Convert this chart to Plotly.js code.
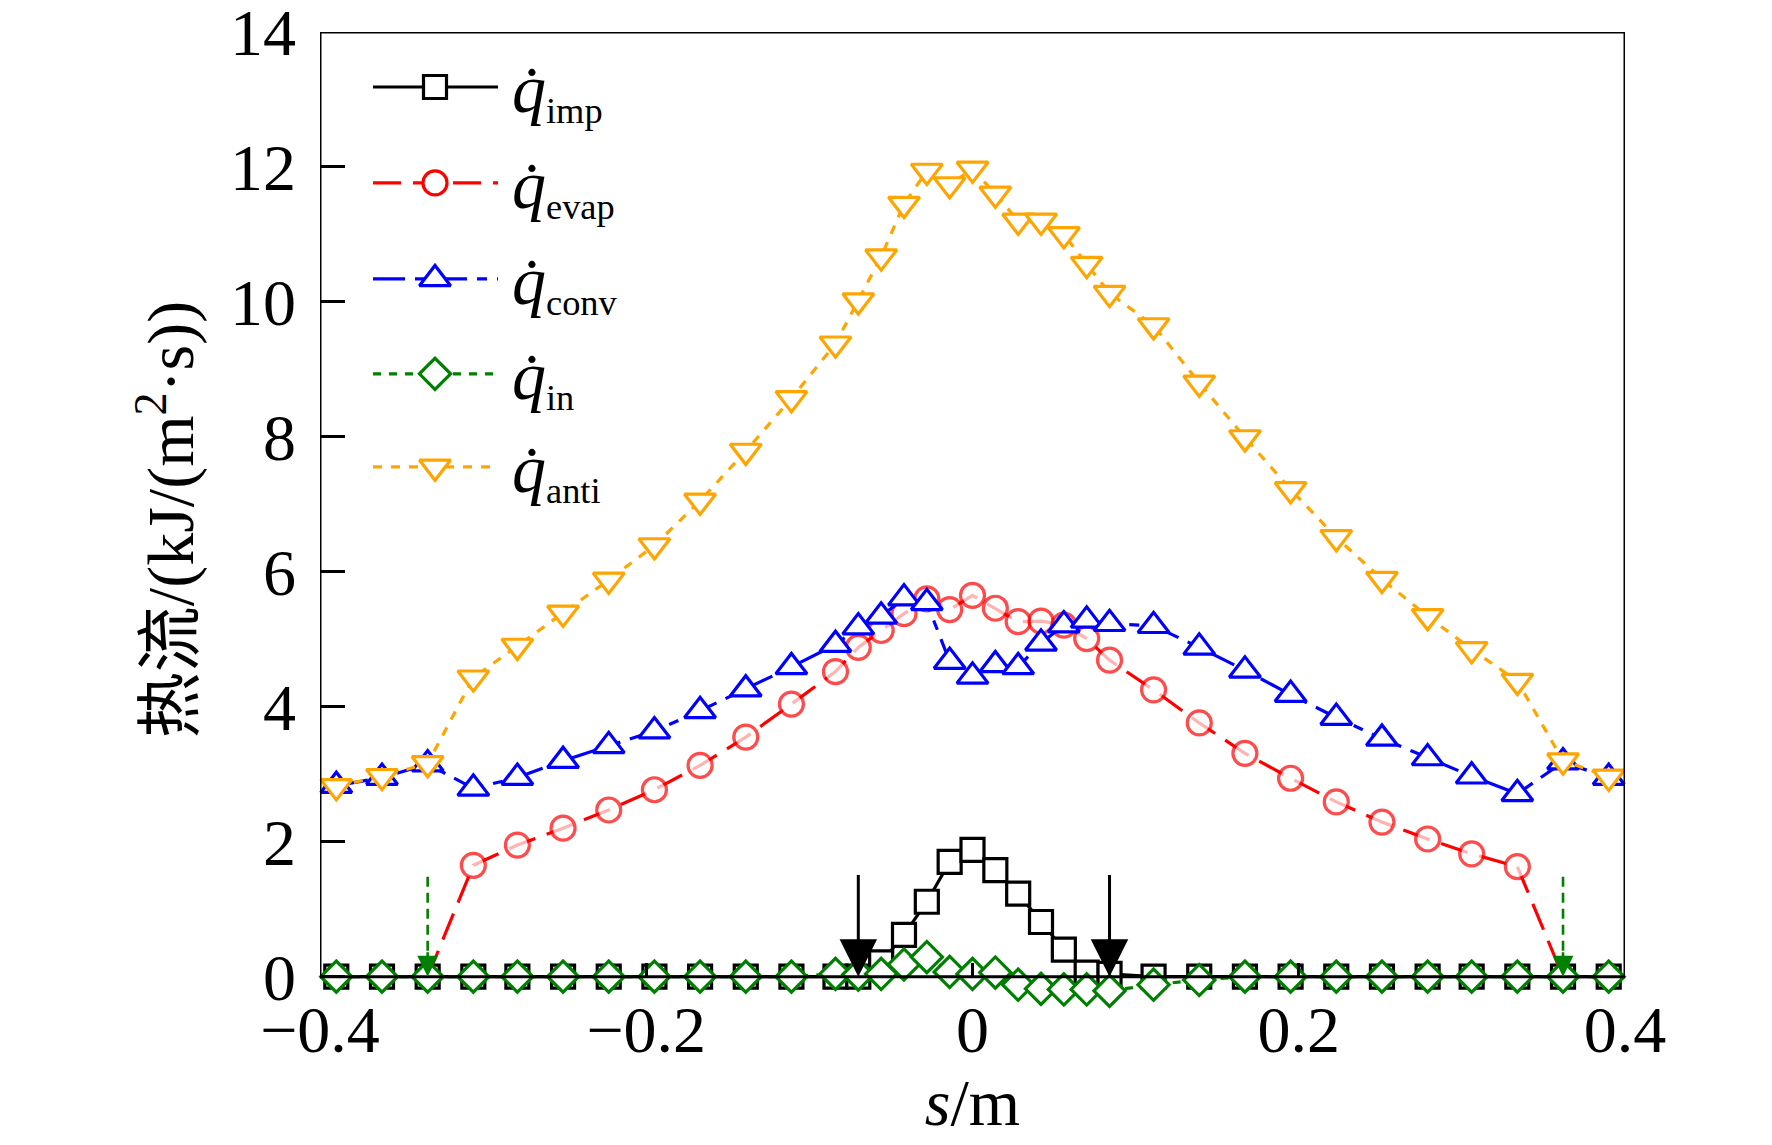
<!DOCTYPE html>
<html>
<head>
<meta charset="utf-8">
<script src="https://cdn.plot.ly/plotly-3.0.1.min.js"></script>
<style>html,body{margin:0;padding:0;background:#fff;}#chart{width:1772px;height:1145px;}</style>
</head>
<body>
<div id="chart"></div>
<script>
// ---- data ----
const s = [-0.390, -0.362, -0.334, -0.306, -0.279, -0.251, -0.223, -0.195, -0.167, -0.139, -0.111, -0.084,
  -0.070, -0.056, -0.042, -0.028, -0.014, 0, 0.014, 0.028, 0.042, 0.056, 0.070, 0.084,
  0.111, 0.139, 0.167, 0.195, 0.223, 0.251, 0.279, 0.306, 0.334, 0.362, 0.390];

const qImp = [0, 0, 0, 0, 0, 0, 0, 0, 0, 0, 0, 0,
  0, 0.21, 0.62, 1.11, 1.70, 1.88, 1.58, 1.23, 0.81, 0.40, 0.06, 0.04,
  0, 0, 0, 0, 0, 0, 0, 0, 0, 0, 0];

const sEvap = [-0.334, -0.306, -0.279, -0.251, -0.223, -0.195, -0.167, -0.139, -0.111, -0.084,
  -0.070, -0.056, -0.042, -0.028, -0.014, 0, 0.014, 0.028, 0.042, 0.056, 0.070, 0.084,
  0.111, 0.139, 0.167, 0.195, 0.223, 0.251, 0.279, 0.306, 0.334, 0.362];
const qEvap = [0, 1.65, 1.95, 2.20, 2.47, 2.77, 3.13, 3.55, 4.04, 4.52,
  4.88, 5.13, 5.38, 5.60, 5.44, 5.65, 5.46, 5.26, 5.27, 5.21, 5.01, 4.69,
  4.25, 3.76, 3.31, 2.94, 2.59, 2.29, 2.04, 1.82, 1.63, 0];

const qConv = [2.83, 2.95, 3.15, 2.79, 2.95, 3.20, 3.42, 3.64, 3.94, 4.26, 4.59, 4.92,
  5.18, 5.34, 5.61, 5.54, 4.67, 4.45, 4.62, 4.59, 4.94, 5.21, 5.28, 5.23,
  5.20, 4.88, 4.54, 4.18, 3.84, 3.53, 3.24, 2.97, 2.71, 3.18, 2.95];

const qIn = [0, 0, 0, 0, 0, 0, 0, 0, 0, 0, 0, 0.04,
  0.03, 0.04, 0.18, 0.29, 0.07, 0.04, 0.06, -0.12, -0.18, -0.19, -0.19, -0.21,
  -0.12, -0.05, 0, 0, 0, 0, 0, 0, 0, 0, 0];

const qAnti = [2.82, 2.97, 3.16, 4.43, 4.90, 5.39, 5.88, 6.39, 7.05, 7.79, 8.57, 9.38,
  10.02, 10.67, 11.45, 11.94, 11.74, 11.97, 11.60, 11.20, 11.20, 11.00, 10.56, 10.13,
  9.65, 8.80, 7.99, 7.22, 6.51, 5.89, 5.34, 4.85, 4.38, 3.20, 2.96];

const seriesNames = ['imp', 'evap', 'conv', 'in', 'anti'];
const xTicks = [-0.4, -0.2, 0, 0.2, 0.4];
const xTickText = ['\u22120.4', '\u22120.2', '0', '0.2', '0.4'];
const yTicks = [0, 2, 4, 6, 8, 10, 12, 14];
const xRange = [-0.4, 0.4];
const yFrame = [0, 14];

// arrows: impingement limits (black) and water-film limits (green)
const arrowImpX = [-0.070, 0.084];
const arrowImpTop = 1.53;
const arrowInX = [-0.334, 0.362];
const arrowInTop = 1.48;

// ---- styles ----
const FONT = "'Liberation Serif', 'Times New Roman', 'Noto Sans CJK SC', serif";
const styles = [
  {color: '#000000', dash: 'solid', symbol: 'square', size: 23},
  {color: '#ff0000', dash: '28px,12px', symbol: 'circle', size: 24},
  {color: '#0000ff', dash: '32px,10px,10px,10px', symbol: 'triangle-up', size: 27},
  {color: '#008000', dash: '8px,8px', symbol: 'diamond', size: 24},
  {color: '#ffa500', dash: '9px,9px', symbol: 'triangle-down', size: 27}
];
const LW = 3.2;

// plot geometry: extra room below y=0 so negative q_in markers stay visible
const yBelow = 0.45;
const PLOT_T = 32, PLOT_H0 = 945;            // height of the 0..14 frame in px
const pxPerUnit = PLOT_H0 / (yFrame[1] - yFrame[0]);
const PLOT_H = PLOT_H0 + yBelow * pxPerUnit;
const MARGIN_B = 1145 - PLOT_T - PLOT_H;

function mk(i, sizes) {
  const st = styles[i];
  return {symbol: st.symbol, size: sizes || st.size, color: '#ffffff',
          line: {color: st.color, width: LW}};
}

const xs = [s, sEvap, s, s, s];
const ys = [qImp, qEvap, qConv, qIn, qAnti];

const traces = ys.map((y, i) => {
  const st = styles[i];
  let sizes = null;
  if (i === 1) sizes = y.map(v => (v === 0 ? 0 : st.size));
  return {
    type: 'scatter', mode: 'lines+markers', x: xs[i], y: y,
    line: {color: st.color, width: LW, dash: st.dash},
    marker: mk(i, sizes), cliponaxis: false, showlegend: false, name: seriesNames[i]
  };
});

// ---- manual legend on an overlay pixel axis (origin = plot top-left) ----
const legRows = [55, 151, 247, 342, 435];
const legX0 = 53, legX1 = 178, legXm = 115, legTextX = 190;
legRows.forEach((yy, i) => {
  const st = styles[i];
  traces.push({type: 'scatter', mode: 'lines', x: [legX0, legX1], y: [yy, yy],
    xaxis: 'x2', yaxis: 'y2', line: {color: st.color, width: LW, dash: st.dash},
    showlegend: false, hoverinfo: 'skip', cliponaxis: false});
  traces.push({type: 'scatter', mode: 'markers', x: [legXm], y: [yy],
    xaxis: 'x2', yaxis: 'y2', marker: mk(i), showlegend: false, hoverinfo: 'skip', cliponaxis: false});
});

const annotations = legRows.map((yy, i) => ({
  xref: 'x2', yref: 'y2', x: legTextX, y: yy + 4, xanchor: 'left', yanchor: 'middle',
  showarrow: false,
  text: '<span style="font-size:68px"><i>q\u0307</i></span><sub>' + seriesNames[i] + '</sub>',
  font: {family: FONT, size: 52, color: '#000'}
}));

arrowImpX.forEach(x => annotations.push({
  xref: 'x', yref: 'y', x: x, y: 0, axref: 'x', ayref: 'y', ax: x, ay: arrowImpTop,
  showarrow: true, arrowhead: 2, arrowsize: 2.5, arrowwidth: 3, arrowcolor: '#000', text: '', standoff: 0
}));
arrowInX.forEach(x => annotations.push({
  xref: 'x', yref: 'y', x: x, y: 0, ax: 0, ay: -26,
  showarrow: true, arrowhead: 2, arrowsize: 1.6, arrowwidth: 2.6, arrowcolor: '#008000', text: '', standoff: 0
}));

const shapes = arrowInX.map(x => ({
  type: 'line', xref: 'x', yref: 'y', x0: x, x1: x, y0: arrowInTop, y1: 0.3,
  line: {color: '#008000', width: 2.6, dash: '10px,6px'}
}));
// axis frame (0..14 box)
shapes.push({type: 'rect', xref: 'x', yref: 'y', x0: xRange[0], x1: xRange[1], y0: yFrame[0], y1: yFrame[1],
  line: {color: '#000', width: 3}, layer: 'above'});

const layout = {
  width: 1772, height: 1145,
  margin: {l: 320, r: 147, t: PLOT_T, b: MARGIN_B},
  paper_bgcolor: '#fff', plot_bgcolor: '#fff',
  font: {family: FONT, color: '#000', size: 66},
  showlegend: false,
  xaxis: {
    range: xRange, tickvals: xTicks, ticktext: xTickText,
    anchor: 'free', position: yBelow / (yFrame[1] + yBelow),
    ticks: 'inside', ticklen: 14, tickwidth: 3, tickcolor: '#000',
    showline: false, showgrid: false, zeroline: false,
    tickfont: {family: FONT, size: 66},
    ticklabelstandoff: 8,
    title: {text: '<i>s</i>/m', font: {family: FONT, size: 66}, standoff: 10}
  },
  yaxis: {
    range: [-yBelow, yFrame[1]], tickvals: yTicks,
    ticks: 'inside', ticklen: 25, tickwidth: 3, tickcolor: '#000',
    showline: false, showgrid: false, zeroline: false,
    tickfont: {family: FONT, size: 66},
    ticklabelstandoff: 23, ticklabeloverflow: 'allow',
    title: {text: '热流/(kJ/(m<sup>2</sup>·s))', font: {family: FONT, size: 66}, standoff: 14}
  },
  xaxis2: {overlaying: 'x', range: [0, 1305], visible: false, fixedrange: true},
  yaxis2: {overlaying: 'y', range: [PLOT_H, 0], visible: false, fixedrange: true},
  annotations: annotations,
  shapes: shapes
};

Plotly.newPlot('chart', traces, layout, {staticPlot: true, displayModeBar: false});
</script>
</body>
</html>
